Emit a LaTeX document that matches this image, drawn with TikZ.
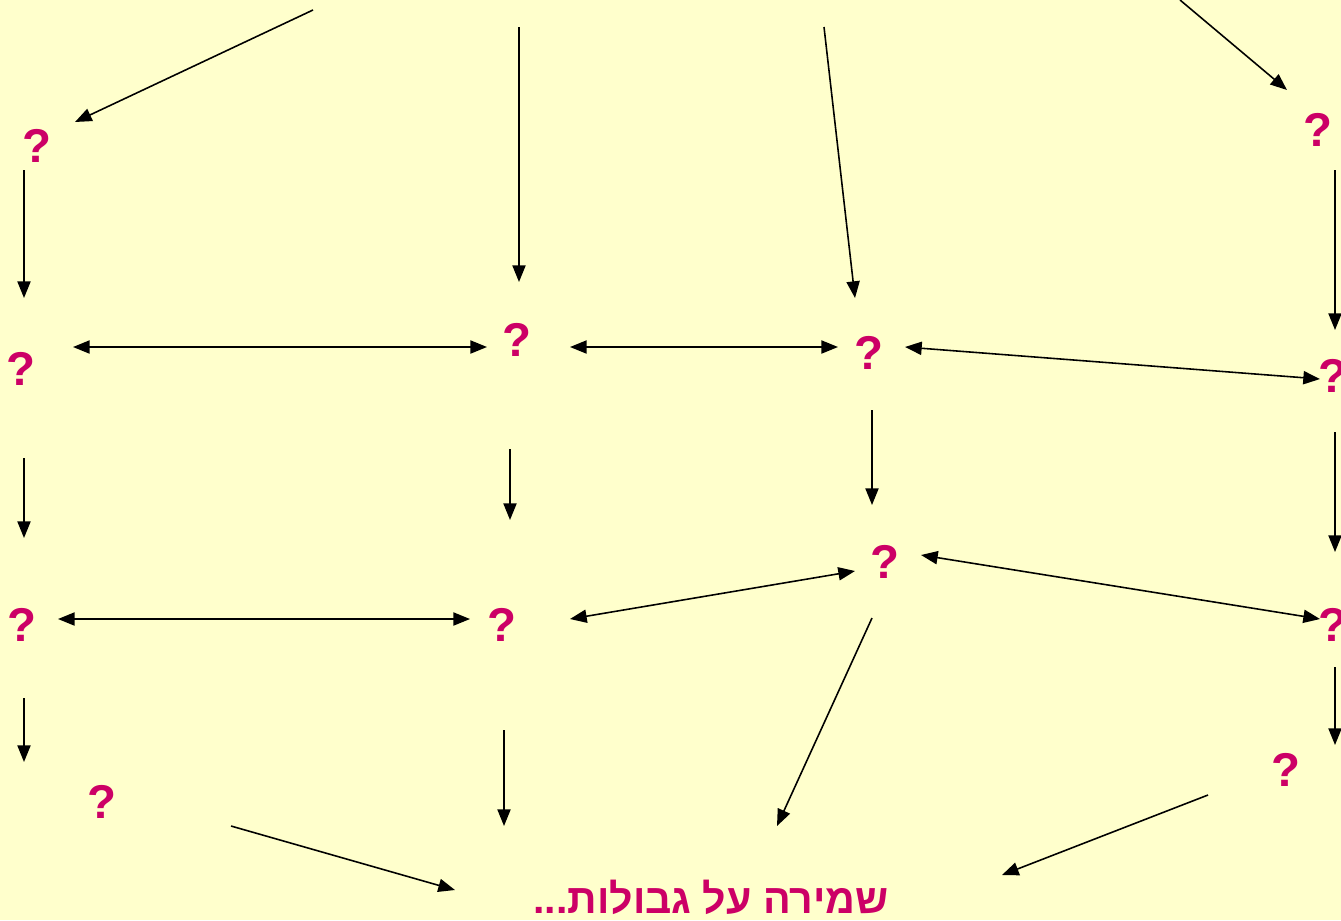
\documentclass[tikz,border=0pt]{standalone}
\usepackage{fontspec}
\setmainfont{Liberation Sans}
\newfontfamily\hebfont[Script=Hebrew]{Liberation Sans}
\TeXXeTstate=1
\usetikzlibrary{arrows.meta}
\definecolor{paper}{RGB}{255,255,204}
\definecolor{berry}{RGB}{204,0,102}

\begin{document}
\begin{tikzpicture}[x=0.02cm, y=-0.02cm,
    qmark/.style={text=berry, font=\fontsize{27}{27}\selectfont\bfseries, inner sep=0pt},
    goal/.style={text=berry, font=\hebfont\fontsize{23.4}{24}\selectfont\bfseries, inner sep=0pt},
    arrow/.style={-{Triangle[length=9.5pt, width=7.5pt]}, line width=0.9pt, black},
    twoway/.style={{Triangle[length=9.5pt, width=7.5pt]}-{Triangle[length=9.5pt, width=7.5pt]}, line width=0.9pt, black}
  ]
  \fill[paper] (0,0) rectangle (1341,920);
  \clip (0,0) rectangle (1341,920);

  % question marks
  \node[qmark] (q1) at (37,146) {?};
  \node[qmark] (q2) at (21,369) {?};
  \node[qmark] (q3) at (517,340) {?};
  \node[qmark] (q4) at (869,353) {?};
  \node[qmark] (q5) at (1318,130) {?};
  \node[qmark] (q6) at (1333,376) {?};
  \node[qmark] (q7) at (885,562) {?};
  \node[qmark] (q8) at (22,625) {?};
  \node[qmark] (q9) at (502,625) {?};
  \node[qmark] (q10) at (1333,625) {?};
  \node[qmark] (q11) at (102,802) {?};
  \node[qmark] (q12) at (1286,770) {?};
  \node[goal] (goal) at (711,897) {\beginR שמירה על גבולות...\endR};

  % arrow ends
  \coordinate (t1) at (313,10);   \coordinate (q1in) at (75,122);
  \coordinate (t2) at (519,27);   \coordinate (q3in) at (519,282);
  \coordinate (t3) at (824,27);   \coordinate (q4in) at (855,298);
  \coordinate (t4) at (1180,0);   \coordinate (q5in) at (1287,90);
  \coordinate (q1out) at (24,170);  \coordinate (q2in) at (24,298);
  \coordinate (q5out) at (1335,170); \coordinate (q6in) at (1335,330);
  \coordinate (q2r) at (73,347);  \coordinate (q3l) at (487,347);
  \coordinate (q3r) at (570,347); \coordinate (q4l) at (838,347);
  \coordinate (q4r) at (905,347); \coordinate (q6l) at (1320,379);
  \coordinate (q2out) at (24,458);  \coordinate (q8in) at (24,538);
  \coordinate (q3out) at (510,449); \coordinate (q9in) at (510,520);
  \coordinate (q4out) at (872,410); \coordinate (q7in) at (872,505);
  \coordinate (q6out) at (1335,432); \coordinate (q10in) at (1335,552);
  \coordinate (q8r) at (58,619);  \coordinate (q9l) at (470,619);
  \coordinate (q9r) at (570,619); \coordinate (q7l) at (855,571);
  \coordinate (q7r) at (921,555); \coordinate (q10l) at (1320,619);
  \coordinate (q8out) at (24,698);  \coordinate (q11in) at (24,762);
  \coordinate (q10out) at (1335,667); \coordinate (q12in) at (1335,745);
  \coordinate (q9out) at (504,730); \coordinate (g1) at (504,826);
  \coordinate (q7out) at (872,618); \coordinate (g2) at (777,826);
  \coordinate (q11out) at (231,826); \coordinate (g3) at (455,890);
  \coordinate (q12out) at (1208,795); \coordinate (g4) at (1002,875);

  % from above
  \draw[arrow] (t1) -- (q1in);
  \draw[arrow] (t2) -- (q3in);
  \draw[arrow] (t3) -- (q4in);
  \draw[arrow] (t4) -- (q5in);

  % down the columns
  \draw[arrow] (q1out) -- (q2in);
  \draw[arrow] (q5out) -- (q6in);
  \draw[arrow] (q2out) -- (q8in);
  \draw[arrow] (q3out) -- (q9in);
  \draw[arrow] (q4out) -- (q7in);
  \draw[arrow] (q6out) -- (q10in);
  \draw[arrow] (q8out) -- (q11in);
  \draw[arrow] (q10out) -- (q12in);

  % across the rows
  \draw[twoway] (q2r) -- (q3l);
  \draw[twoway] (q3r) -- (q4l);
  \draw[twoway] (q4r) -- (q6l);
  \draw[twoway] (q8r) -- (q9l);
  \draw[twoway] (q9r) -- (q7l);
  \draw[twoway] (q7r) -- (q10l);

  % into the goal
  \draw[arrow] (q9out) -- (g1);
  \draw[arrow] (q7out) -- (g2);
  \draw[arrow] (q11out) -- (g3);
  \draw[arrow] (q12out) -- (g4);
\end{tikzpicture}
\end{document}
